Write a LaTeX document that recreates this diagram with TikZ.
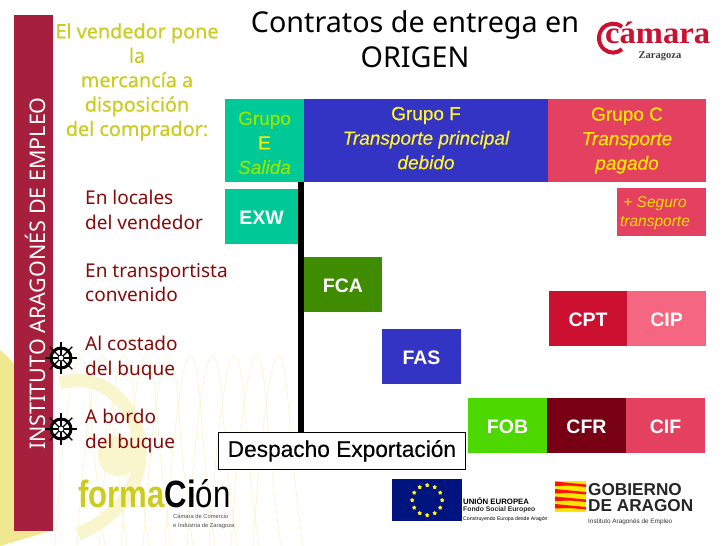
\documentclass[tikz,border=0pt]{standalone}
\usepackage{xcolor}
\usepackage{fontspec}
\setmainfont{Noto Sans}
\newfontfamily\leadfont[FakeBold=0.5]{Noto Sans}
\newfontfamily\arialfont{Liberation Sans}
\newfontfamily\groupfont[FakeBold=0.4]{Liberation Sans}
\newfontfamily\timesfont{Liberation Serif}
\usetikzlibrary{positioning, shapes.geometric, calc}
\definecolor{strip}{HTML}{A6203E}
\definecolor{teal}{HTML}{00C896}
\definecolor{royal}{HTML}{3333C4}
\definecolor{rose}{HTML}{E44060}
\definecolor{leaf}{HTML}{3F8C00}
\definecolor{lime}{HTML}{4DD800}
\definecolor{wine}{HTML}{780014}
\definecolor{crimson}{HTML}{CC1030}
\definecolor{salmon}{HTML}{F56680}
\definecolor{olive}{HTML}{CCCC20}
\definecolor{maroon}{HTML}{860A0A}
\definecolor{pale}{HTML}{F9F5CC}
\definecolor{sand}{HTML}{F0E890}
\tikzset{
  groupbox/.style={fill=#1, inner sep=0pt, outer sep=0pt, minimum height=83pt, align=center, font=\groupfont\fontsize{19}{24.5}\selectfont},
  termbox/.style={fill=#1, text=white, inner sep=0pt, outer sep=0pt, minimum width=79pt, minimum height=54.5pt, text height=15.5pt, text depth=0pt, font=\arialfont\bfseries\fontsize{19.5}{22}\selectfont},
  placelabel/.style={anchor=north west, inner sep=0pt, align=left, text=maroon, font=\fontsize{19}{24.4}\selectfont},
  helm/.pic={
    \draw[line width=3pt] (0,0) circle (10pt);
    \draw[line width=.8pt] (0,0) circle (3pt);
    \foreach \a in {0,45,...,315}
      \draw[line width=1.3pt, rotate=\a] (3pt,0) -- (16pt,0);
  }
}
\begin{document}
\begin{tikzpicture}[x=1pt, y=-1pt, node distance=0pt]
  \useasboundingbox (0,0) rectangle (728,546);
  \fill[white] (0,0) rectangle (728,546);

  \fill[sand] (0,350) .. controls (30,375) and (52,420) .. (50,531) -- (0,546) -- cycle;
  \draw[pale, line width=13pt] (60,383) .. controls (110,368) and (150,420) .. (138,470) .. controls (130,505) and (100,525) .. (78,534);
  \fill[pale] (118,456) circle (20);
  \foreach \i in {0,1,...,9}
    \draw[pale, line width=.6pt] (55+\i*22,546) .. controls (65+\i*22,400) and (80+\i*22,290) .. (90+\i*22,400) .. controls (95+\i*22,470) and (100+\i*22,510) .. (105+\i*22,546);

  \node[fill=strip, inner sep=0pt, minimum width=39pt, minimum height=516pt, anchor=north west](strip) at (14,15){};
  \node[rotate=90, text=white, inner sep=0pt, font=\fontsize{21.5}{24}\selectfont](institute) at (35,273.5){INSTITUTO ARAGONÉS DE EMPLEO};

  \node[align=center, inner sep=0pt, font=\fontsize{28.7}{35.5}\selectfont](title) at (415,39){Contratos de entrega en\\ORIGEN};

  \node[align=center, inner sep=0pt, text=olive, font=\leadfont\fontsize{19.8}{24.4}\selectfont](lead) at (137,82){El vendedor pone\\la\\mercancía a\\disposición\\del comprador:};

  \node[groupbox=teal, minimum width=79pt, anchor=north west](grupoE) at (225,99){\rule{0pt}{18pt}\color{lime!60!yellow}Grupo\\\color{yellow}E\\\color{lime!60!yellow}\itshape Salida};
  \node[groupbox=royal, minimum width=244pt, text=yellow!85!white, right=of grupoE](grupoF){Grupo F\\\itshape Transporte principal\\\itshape debido\rule[-5pt]{0pt}{0pt}};
  \node[groupbox=rose, minimum width=158pt, text=yellow!90!orange, right=of grupoF](grupoC){Grupo C\\\itshape Transporte\\\itshape pagado};

  \node[fill=rose, inner sep=0pt, minimum width=89pt, minimum height=48pt, anchor=north west](seguro) at (617,188){};
  \node[text=yellow!80!orange, inner sep=0pt, align=center, font=\arialfont\itshape\fontsize{15.5}{19}\selectfont](segurotext) at (655,213){+ Seguro\\transporte};

  \node[termbox=teal, minimum width=73pt, anchor=north west](exw) at (225,189){EXW};
  \node[termbox=leaf, minimum width=78pt, anchor=north west](fca) at (304,257){FCA};
  \node[termbox=royal, anchor=north west](fas) at (382,329){FAS};
  \node[termbox=crimson, minimum width=78pt, anchor=north west](cpt) at (549,291){CPT};
  \node[termbox=salmon, right=of cpt](cip){CIP\hspace{8pt}};
  \node[termbox=lime, anchor=north west](fob) at (468,398){FOB};
  \node[termbox=wine, right=of fob](cfr){CFR};
  \node[termbox=rose, right=of cfr](cif){CIF};

  \node[draw, fill=white, line width=.8pt, inner sep=0pt, minimum width=247pt, minimum height=37pt, anchor=north west, font=\groupfont\fontsize{22.7}{24}\selectfont](despacho) at (218,432){\raisebox{-1.5pt}{Despacho Exportación}};

  \coordinate(axistop) at (301,182);
  \draw[line width=6pt] (axistop) -- (axistop |- despacho.north);

  \node[placelabel](locales) at (85,190){En locales\\del vendedor};
  \node[placelabel](transportista) at (85,263){En transportista\\convenido};
  \node[placelabel](costado) at (85,336){Al costado\\del buque};
  \node[placelabel](bordo) at (85,409){A bordo\\del buque};

  \pic at (61,358) {helm};
  \pic at (61,429) {helm};

  \draw[crimson, line width=4pt](622,27) arc (50:310:14pt and 14.5pt);
  \node[anchor=base west, inner sep=0pt, xscale=1.05, text=crimson, font=\timesfont\bfseries\fontsize{31}{31}\selectfont](camara) at (605,43){cámara};
  \node[inner sep=0pt, font=\timesfont\bfseries\fontsize{10.5}{12}\selectfont, text=black!75](zaragoza) at (660,56){Zaragoza};

  \node[anchor=base west, inner sep=0pt, xscale=.82, font=\arialfont\bfseries\fontsize{38}{40}\selectfont](formacion) at (78,507){\textcolor{olive}{forma}Ci\mdseries ón};
  \node[anchor=north west, inner sep=0pt, align=left, text=black!70, font=\arialfont\fontsize{5.8}{8.8}\selectfont](formasub) at (173,514){Cámara de Comercio\\e Industria de Zaragoza};

  \node[fill={rgb,255:red,0;green,20;blue,127}, inner sep=0pt, minimum width=70pt, minimum height=42pt, anchor=north west](euflag) at (392,479){};
  \foreach \a in {0,30,...,330}
    \node[star, star points=5, fill=yellow!90!white, inner sep=0pt, minimum size=4.5pt] at ($(euflag.center)+(\a:15pt)$) {};
  \node[anchor=base west, inner sep=0pt, font=\arialfont\bfseries\fontsize{7.8}{8}\selectfont](union) at (463,504){UNIÓN EUROPEA};
  \node[anchor=base west, inner sep=0pt, font=\arialfont\bfseries\fontsize{6.8}{8}\selectfont, text=black!85](fondo) at (463,511.5){Fondo Social Europeo};
  \node[anchor=base west, inner sep=0pt, font=\arialfont\fontsize{5.2}{6}\selectfont](construyendo) at (463,520){Construyendo Europa desde Aragón};

  \node[fill=yellow!90!orange, inner sep=0pt, minimum width=31pt, minimum height=31pt, anchor=north west](aragonflag) at (555,481){};
  \foreach \i in {0,1,2,3}
    \fill[red!85!orange] (555,481.5+\i*7.5) -- (586,484.5+\i*7.5) -- (586,487+\i*7.5) -- (570,485.5+\i*7.5) -- (555,486+\i*7.5) -- cycle;
  \node[anchor=base west, inner sep=0pt, font=\arialfont\bfseries\fontsize{17.2}{20}\selectfont, text=black!85](gobierno) at (588,495){GOBIERNO};
  \node[anchor=base west, inner sep=0pt, font=\arialfont\bfseries\fontsize{17.2}{20}\selectfont, text=black!85](aragon) at (588,511){DE ARAGON};
  \node[anchor=base west, inner sep=0pt, font=\arialfont\fontsize{6.4}{9}\selectfont, text=black!80](iae) at (588,523){Instituto Aragonés de Empleo};
\end{tikzpicture}
\end{document}
